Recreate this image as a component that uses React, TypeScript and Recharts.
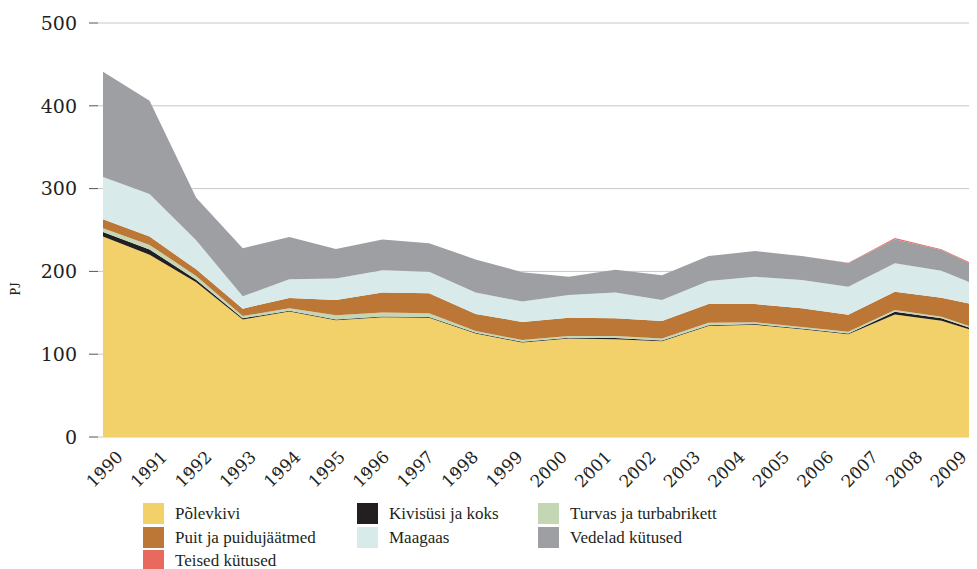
import React from "react";
import { AreaChart, Area, XAxis, YAxis, CartesianGrid, Legend } from "recharts";

const years = [1990, 1991, 1992, 1993, 1994, 1995, 1996, 1997, 1998, 1999, 2000, 2001, 2002, 2003, 2004, 2005, 2006, 2007, 2008, 2009];
const polevkivi = [242, 220, 187, 142, 151.5, 141, 144.5, 144, 125, 114, 119, 118, 115.5, 134, 135.5, 130, 124, 148, 140.5, 123];
const kivisysi = [5.5, 6.5, 3, 1.5, 1, 1, 1, 1, 1, 1, 1, 1.5, 1, 1, 1, 1, 1, 3.4, 2.8, 1.5];
const turvas = [4.5, 5.5, 4.5, 2.5, 3, 5, 5, 4.5, 2, 2, 2, 2.5, 2.5, 3, 2, 2, 2, 2, 2, 2];
const puit = [11, 10, 8, 9, 12.5, 18.5, 24, 24, 20.5, 22, 22, 21.5, 21, 22.5, 22, 22.5, 20.5, 22, 23, 30];
const maagaas = [51, 51.5, 35, 15, 22.5, 26, 27, 26, 26, 24.5, 27.5, 31, 25.5, 28, 33, 34, 34, 34.5, 32.5, 21.5];
const vedelad = [127, 112.5, 51.5, 58, 51, 35.5, 37, 34.5, 40, 35.5, 22, 27.5, 30, 30, 31, 29, 28.5, 29, 25, 21.5];
const teised = [0, 0, 0, 0, 0, 0, 0, 0, 0, 0, 0, 0, 0, 0, 0, 0, 0.3, 1.5, 1, 1];
const yTicks = [0, 100, 200, 300, 400, 500];

const series = [
  { key: "polevkivi", name: "Põlevkivi", color: "#F2D16B", values: polevkivi },
  { key: "kivisysi", name: "Kivisüsi ja koks", color: "#231F20", values: kivisysi },
  { key: "turvas", name: "Turvas ja turbabrikett", color: "#C4D7B5", values: turvas },
  { key: "puit", name: "Puit ja puidujäätmed", color: "#BC7736", values: puit },
  { key: "maagaas", name: "Maagaas", color: "#D8EAEA", values: maagaas },
  { key: "vedelad", name: "Vedelad kütused", color: "#9E9FA3", values: vedelad },
  { key: "teised", name: "Teised kütused", color: "#E8695D", values: teised },
];

const legendOrder = [
  ["polevkivi", "kivisysi", "turvas"],
  ["puit", "maagaas", "vedelad"],
  ["teised"],
];

const data = years.map((year, i) => {
  const row: Record<string, number> = { year, base: 0 };
  series.forEach((s) => {
    row[s.key] = s.values[i];
  });
  return row;
});

const FONT = "'DejaVu Serif', serif";
const LEG_FONT = "'Liberation Serif', serif";

const XLabelTick = (props: any) => {
  const { x, y, payload } = props;
  return (
    <text
      transform={`translate(${x + 26},${y - 18}) rotate(-45)`}
      textAnchor="end"
      fontSize={17}
      fontFamily={FONT}
      fill="#231F20"
    >
      {payload.value}
    </text>
  );
};

const renderLegend = () => {
  const colX = [135, 349, 530];
  return (
    <div style={{ position: "relative", width: 969, height: 66, fontFamily: LEG_FONT }}>
      {legendOrder.map((row, r) =>
        row.map((k, c) => {
          const s = series.find((q) => q.key === k)!;
          return (
            <div
              key={k}
              style={{
                position: "absolute",
                left: colX[c],
                top: r * 23.5,
                height: 21,
                display: "flex",
                alignItems: "center",
                whiteSpace: "nowrap",
              }}
            >
              <div style={{ width: 21, height: 21, background: s.color, marginRight: 11 }} />
              <span style={{ fontSize: 17, color: "#231F20", lineHeight: "21px" }}>{s.name}</span>
            </div>
          );
        })
      )}
    </div>
  );
};

const dataStep = 46.58;
const labStep = 44.42;
const plotW = 879;

export default function App() {
  return (
    <div style={{ width: 969, height: 561, fontFamily: FONT }}>
      <AreaChart width={969} height={561} data={data} margin={{ top: 15, right: 0, bottom: 0, left: 0 }}>
        <CartesianGrid vertical={false} stroke="#C8C8C8" strokeWidth={1} />
        <XAxis
          xAxisId={0}
          dataKey="year"
          type="number"
          domain={[1990 - 5 / dataStep, 1990 + (plotW - 5) / dataStep]}
          allowDataOverflow
          hide
        />
        <XAxis
          xAxisId="lab"
          dataKey="year"
          type="number"
          domain={[1990, 1990 + plotW / labStep]}
          allowDataOverflow
          ticks={years}
          interval={0}
          axisLine={false}
          tickSize={9}
          tickMargin={0}
          tickLine={{ stroke: "#666", strokeWidth: 1 }}
          tick={<XLabelTick />}
          height={66}
        />
        <YAxis
          domain={[0, 500]}
          ticks={yTicks}
          width={90}
          axisLine={false}
          tickSize={9}
          tickMargin={12}
          tickLine={{ stroke: "#555", strokeWidth: 1 }}
          tick={{ fontSize: 19, fontFamily: FONT, fill: "#231F20" }}
          label={{
            content: () => (
              <text
                transform="translate(12,281) rotate(-90)"
                textAnchor="middle"
                fontSize={14}
                fontFamily={LEG_FONT}
                fill="#231F20"
              >
                PJ
              </text>
            ),
          }}
        />
        <Area
          xAxisId="lab"
          dataKey="base"
          fill="none"
          stroke="none"
          isAnimationActive={false}
          dot={false}
          activeDot={false}
          legendType="none"
        />
        {series.map((s) => (
          <Area
            key={s.key}
            xAxisId={0}
            dataKey={s.key}
            name={s.name}
            stackId="a"
            type="linear"
            fill={s.color}
            fillOpacity={1}
            stroke="none"
            isAnimationActive={false}
            dot={false}
            activeDot={false}
          />
        ))}
        <Legend verticalAlign="bottom" align="left" content={renderLegend} />
      </AreaChart>
    </div>
  );
}
